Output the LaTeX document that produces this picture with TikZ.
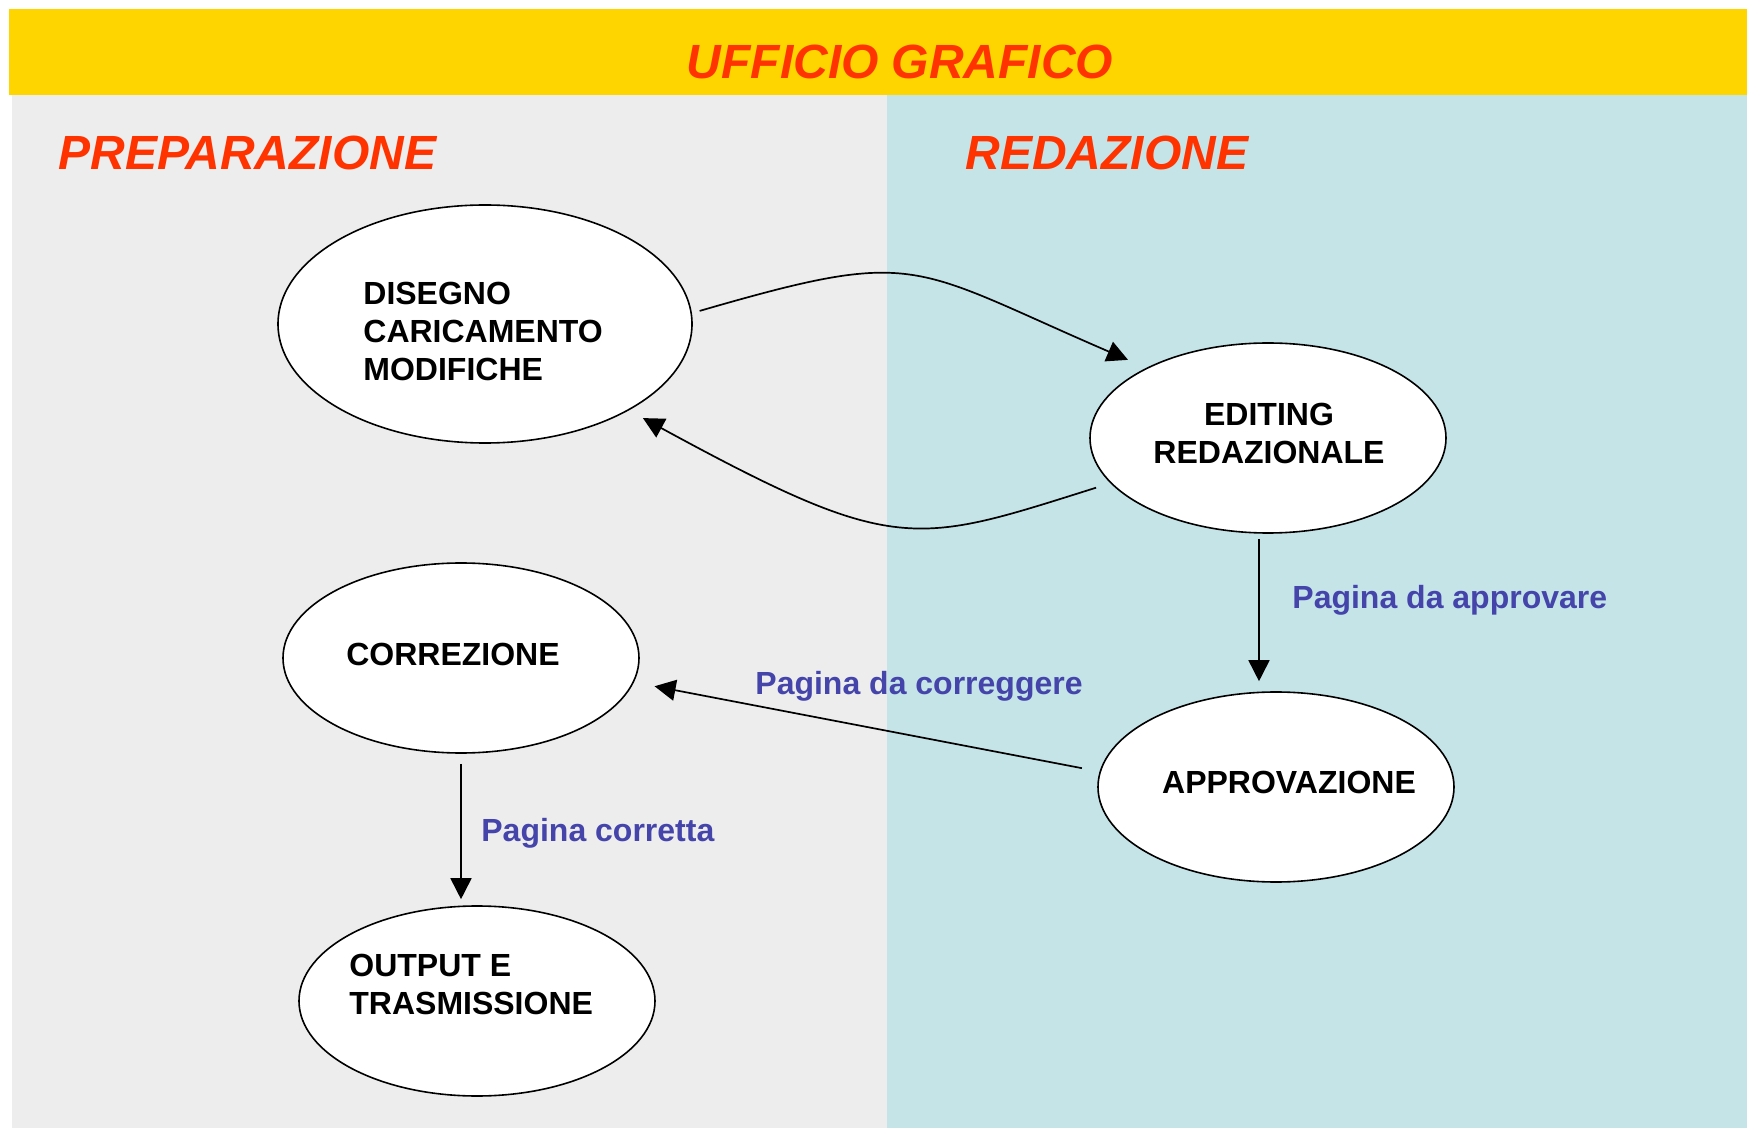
\documentclass[tikz,border=0pt]{standalone}
\usepackage{fontspec}
\setmainfont{Liberation Sans}
\usetikzlibrary{shapes.geometric,arrows.meta}
\definecolor{titlered}{RGB}{255,51,0}
\definecolor{bandyellow}{RGB}{255,213,0}
\definecolor{prepgray}{RGB}{237,237,237}
\definecolor{redcyan}{RGB}{197,228,232}
\definecolor{edgeblue}{RGB}{68,68,170}

\begin{document}
\begin{tikzpicture}[x=0.5pt, y=-0.5pt,
    state/.style={draw, ellipse, fill=white, line width=0.8pt, inner sep=0pt,
      minimum width=178pt, minimum height=95pt},
    txt/.style={inner sep=0pt, font=\bfseries\fontsize{16}{19}\selectfont},
    head/.style={inner sep=0pt, text=titlered, font=\bfseries\itshape\fontsize{24}{29}\selectfont},
    lab/.style={inner sep=0pt, anchor=base west, text=edgeblue, font=\bfseries\fontsize{16}{19}\selectfont},
    link/.style={-{Triangle[length=10.5pt,width=10.5pt]}, line width=0.85pt}]
  \useasboundingbox (0,0) rectangle (1747,1128);
  % background bands
  \fill[bandyellow] (9,9) rectangle (1747,95);
  \fill[prepgray] (12,95) rectangle (887,1128);
  \fill[redcyan] (887,95) rectangle (1747,1128);
  \node[head, anchor=base] (ufficio) at (900,79) {UFFICIO GRAFICO};
  \node[head, anchor=base west] (prep) at (58,170) {PREPARAZIONE};
  \node[head, anchor=base west] (reda) at (965,170) {REDAZIONE};
  % states
  \node[state, minimum width=207pt, minimum height=119pt] (dis) at (485,324) {};
  \node[txt, anchor=west, align=left] (dis-t) at (363,331) {DISEGNO\\CARICAMENTO\\MODIFICHE};
  \node[state] (edit) at (1268,438) {};
  \node[txt, align=center] (edit-t) at (1269,433.5) {EDITING\\REDAZIONALE};
  \node[state] (corr) at (461,658) {};
  \node[txt] (corr-t) at (453,654) {CORREZIONE};
  \node[state] (appr) at (1276,787) {};
  \node[txt] (appr-t) at (1289,782) {APPROVAZIONE};
  \node[state] (out) at (477,1001) {};
  \node[txt, anchor=west, align=left] (out-t) at (349,984.5) {OUTPUT E\\TRASMISSIONE};
  % connectors
  \draw[link, shorten <=4pt, shorten >=10pt] (dis.3) .. controls (920,247) and (908,265) .. (edit.150);
  \draw[link, shorten <=7.5pt, shorten >=8pt] (edit.196) .. controls (914,545) and (896,556) .. (dis.-31);
  \draw[link, shorten <=2.5pt, shorten >=5pt] ([xshift=-4.5pt]edit.south) -- ([xshift=-4.5pt]edit.south |- appr.north);
  \draw[link, shorten <=9pt, shorten >=10.5pt] (appr.175) -- (corr.-8);
  \draw[link, shorten <=5pt, shorten >=3pt] (corr.south) -- (corr.south |- out.north);
  % edge labels
  \node[lab] (lab-appr) at (1292,609) {Pagina da approvare};
  \node[lab] (lab-corr) at (755,695) {Pagina da correggere};
  \node[lab] (lab-ok) at (481,841) {Pagina corretta};
\end{tikzpicture}
\end{document}
